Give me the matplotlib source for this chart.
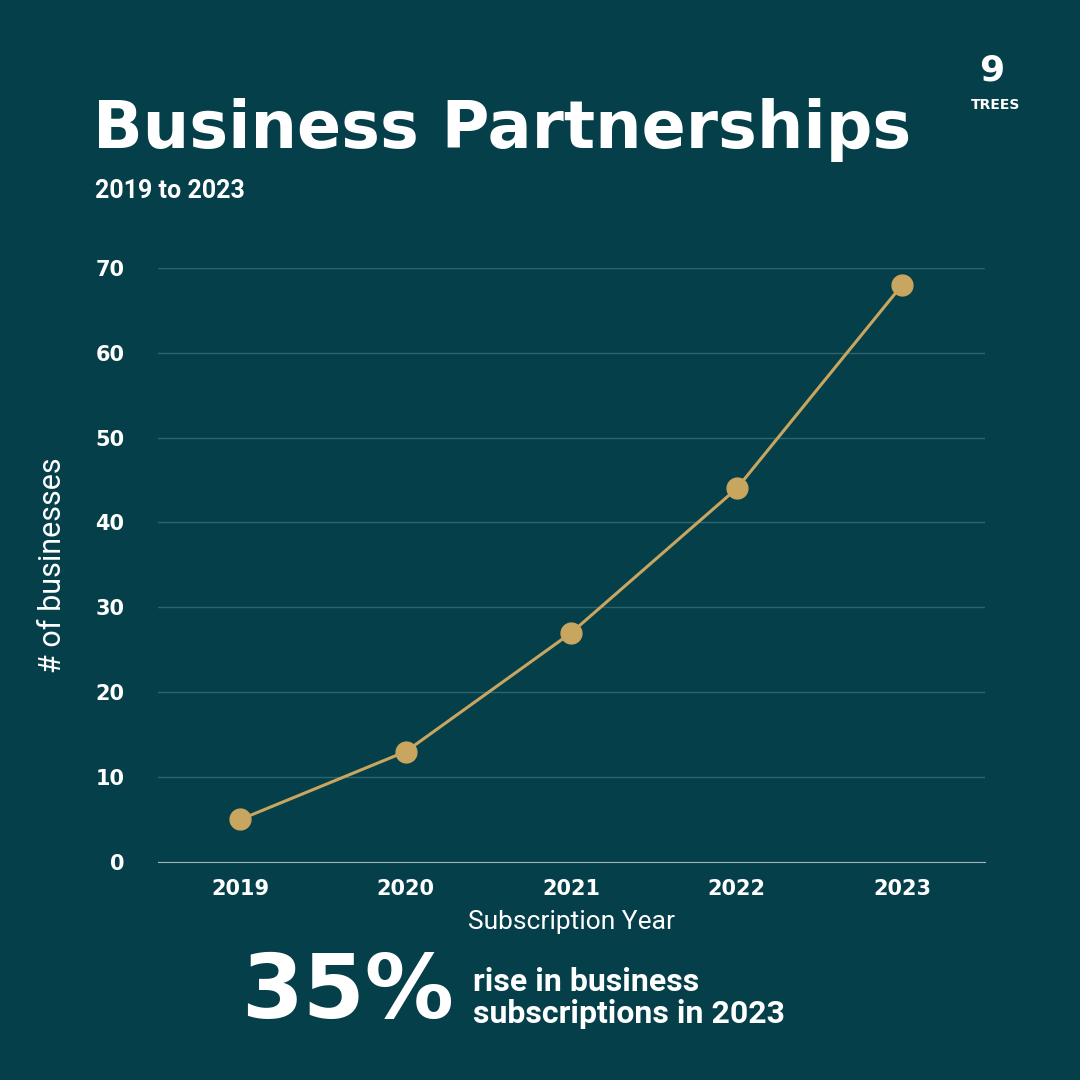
import matplotlib
matplotlib.use("Agg")
import matplotlib.pyplot as plt

years = [2019, 2020, 2021, 2022, 2023]
businesses = [5, 13, 27, 44, 68]
y_ticks = [0, 10, 20, 30, 40, 50, 60, 70]

bg = "#053f4a"
gold = "#c9a65f"
grid = "#2c6470"
narrow = "Roboto"

fig = plt.figure(figsize=(10.8, 10.8), dpi=100, facecolor=bg)
ax = fig.add_axes([0.146, 0.202, 0.766, 0.550], facecolor=bg)

ax.plot(years, businesses, color=gold, lw=2.2, marker="o", ms=15, zorder=3)
ax.set_xlim(2018.5, 2023.5)
ax.set_ylim(0, 70)
ax.set_xticks(years)
ax.set_yticks(y_ticks)
ax.grid(axis="y", color=grid, lw=1)
ax.set_axisbelow(True)
for s in ["top", "right", "left"]:
    ax.spines[s].set_visible(False)
ax.spines["bottom"].set_color("#9fb5b9")
ax.tick_params(length=0, colors="white", labelsize=15, pad=12)
for lab in ax.get_xticklabels() + ax.get_yticklabels():
    lab.set_fontweight("bold")
    lab.set_family("DejaVu Sans")
ax.tick_params(axis="y", pad=24)

ax.set_xlabel("Subscription Year", color="white", fontsize=19, family=narrow, labelpad=8)
ax.set_ylabel("# of businesses", color="white", fontsize=22, family=narrow, labelpad=20)

fig.text(0.086, 0.880, "Business Partnerships", color="white", fontsize=47,
         fontweight="bold", family="DejaVu Sans", va="center")
fig.text(0.088, 0.823, "2019 to 2023", color="white", fontsize=18,
         fontweight="bold", family=narrow, va="center")

fig.text(0.918, 0.935, "9", color="white", fontsize=26, fontweight="black",
         family="DejaVu Sans", ha="center", va="center")
fig.text(0.922, 0.903, "TREES", color="white", fontsize=10, fontweight="black",
         family="DejaVu Sans", ha="center", va="center")

fig.text(0.42, 0.080, "35%", color="white", fontsize=64, fontweight="bold",
         family="DejaVu Sans", ha="right", va="center")
fig.text(0.438, 0.076, "rise in business\nsubscriptions in 2023", color="white",
         fontsize=23, fontweight="bold", family=narrow, va="center", linespacing=1.05)

fig.savefig("out.png", dpi=100, facecolor=bg)
